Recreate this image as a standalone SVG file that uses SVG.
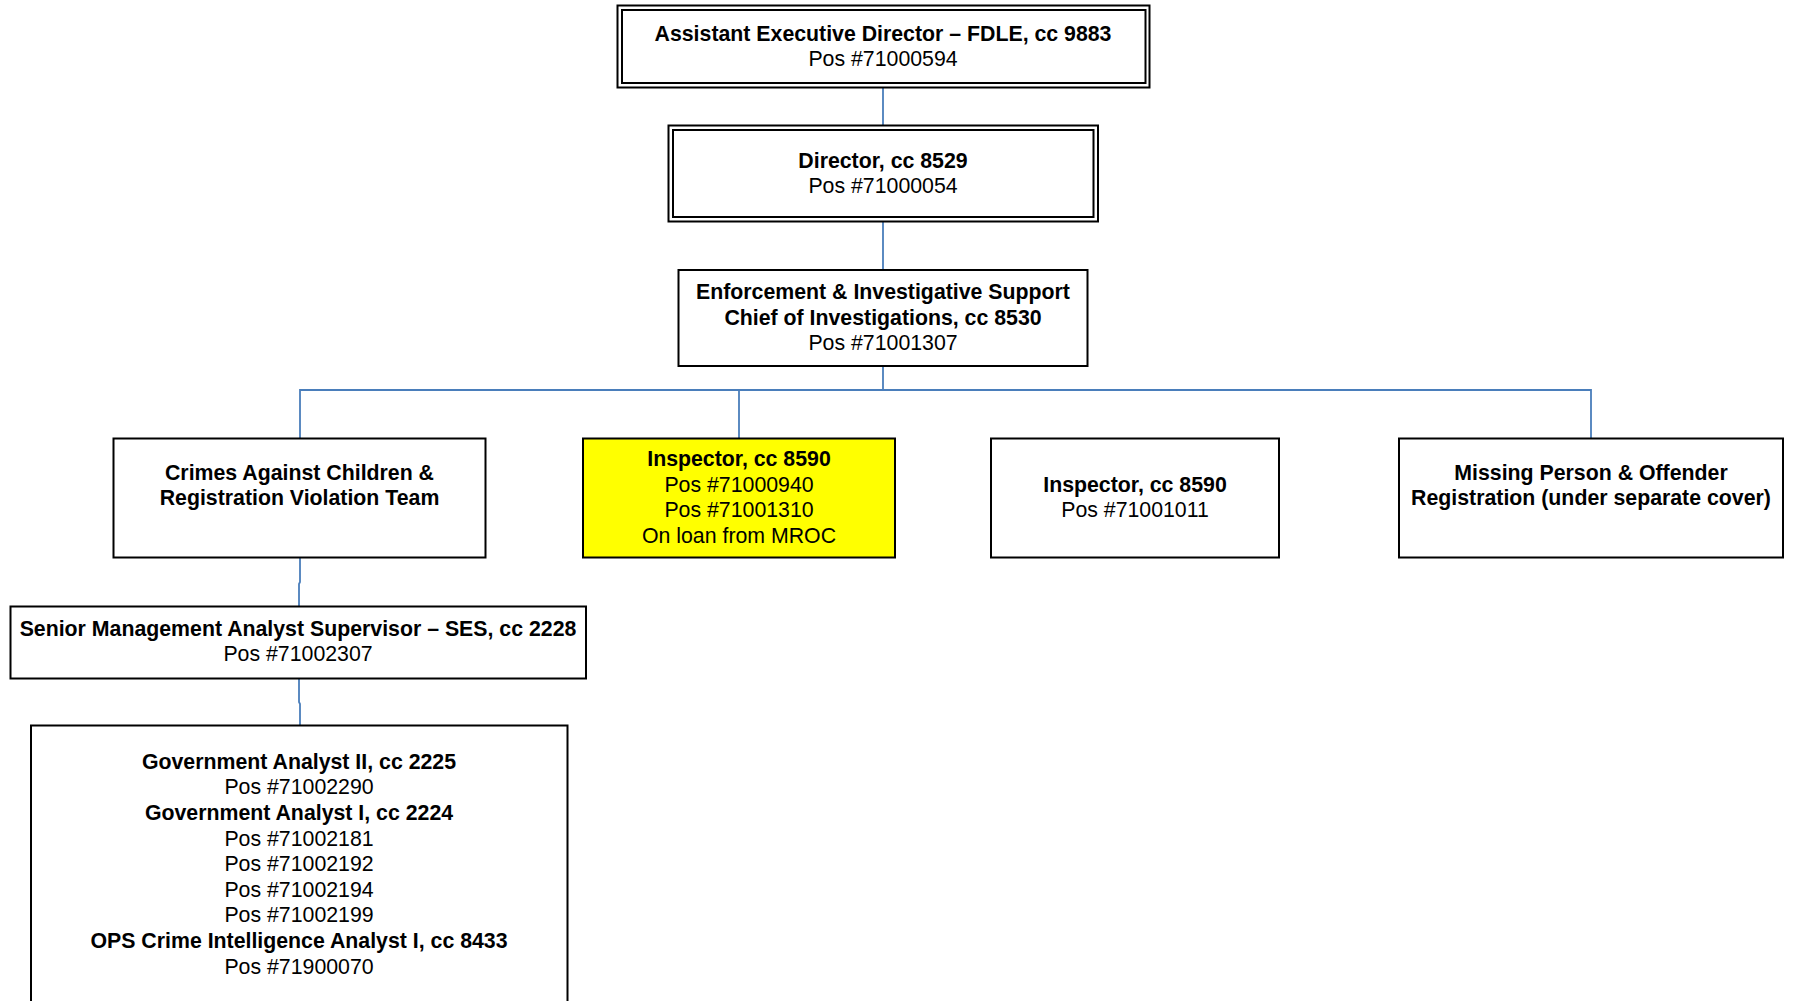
<svg xmlns="http://www.w3.org/2000/svg" width="1794" height="1001" viewBox="0 0 1794 1001">
<style>
.box{fill:#ffffff;stroke:#000000;stroke-width:2}
.hl{fill:#ffff00;stroke:#000000;stroke-width:2}
.conn{fill:none;stroke:#4a7ebb;stroke-width:1.8}
text{font-family:"Liberation Sans",Arial,sans-serif;font-size:21.3px;fill:#000000;text-anchor:middle}
.b{font-weight:bold}
</style>
<rect width="1794" height="1001" fill="#ffffff"/>
<g id="connectors">
<path class="conn" d="M883,88 V126"/>
<path class="conn" d="M883,222 V270"/>
<path class="conn" d="M883,366 V390"/>
<path class="conn" d="M300,438 V390 H1591 V438"/>
<path class="conn" d="M739,390 V438"/>
<path class="conn" d="M300,558 V582 L299,584 V607"/>
<path class="conn" d="M299,679 V702 L300,704 V725"/>
</g>
<g id="node-aed">
<rect class="box" x="617.5" y="5.5" width="532" height="82"/>
<rect class="box" x="622" y="10" width="523.5" height="73"/>
<text class="b" x="883" y="41">Assistant Executive Director – FDLE, cc 9883</text>
<text x="883" y="66">Pos #71000594</text>
</g>
<g id="node-director">
<rect class="box" x="668.5" y="125.5" width="429.5" height="96"/>
<rect class="box" x="673" y="130" width="420.5" height="87"/>
<text class="b" x="883" y="168">Director, cc 8529</text>
<text x="883" y="193">Pos #71000054</text>
</g>
<g id="node-chief">
<rect class="box" x="678.5" y="270" width="409" height="96"/>
<text class="b" x="883" y="299">Enforcement &amp; Investigative Support</text>
<text class="b" x="883" y="324.5">Chief of Investigations, cc 8530</text>
<text x="883" y="350">Pos #71001307</text>
</g>
<g id="node-crimes">
<rect class="box" x="113.5" y="438.5" width="372" height="119"/>
<text class="b" x="299.5" y="479.5">Crimes Against Children &amp;</text>
<text class="b" x="299.5" y="504.5">Registration Violation Team</text>
</g>
<g id="node-inspector1">
<rect class="hl" x="583" y="438.5" width="312" height="119"/>
<text class="b" x="739" y="466">Inspector, cc 8590</text>
<text x="739" y="491.5">Pos #71000940</text>
<text x="739" y="517">Pos #71001310</text>
<text x="739" y="542.5">On loan from MROC</text>
</g>
<g id="node-inspector2">
<rect class="box" x="991" y="438.5" width="288" height="119"/>
<text class="b" x="1135" y="491.5">Inspector, cc 8590</text>
<text x="1135" y="516.7">Pos #71001011</text>
</g>
<g id="node-missing">
<rect class="box" x="1399" y="438.5" width="384" height="119"/>
<text class="b" x="1591" y="479.5">Missing Person &amp; Offender</text>
<text class="b" x="1591" y="504.5">Registration (under separate cover)</text>
</g>
<g id="node-senior">
<rect class="box" x="10.5" y="606.5" width="575.5" height="72"/>
<text class="b" x="298" y="636">Senior Management Analyst Supervisor – SES, cc 2228</text>
<text x="298" y="661">Pos #71002307</text>
</g>
<g id="node-analysts">
<rect class="box" x="31" y="725.5" width="536.5" height="290"/>
<text class="b" x="299" y="769">Government Analyst II, cc 2225</text>
<text x="299" y="794">Pos #71002290</text>
<text class="b" x="299" y="820">Government Analyst I, cc 2224</text>
<text x="299" y="845.5">Pos #71002181</text>
<text x="299" y="871">Pos #71002192</text>
<text x="299" y="896.5">Pos #71002194</text>
<text x="299" y="922">Pos #71002199</text>
<text class="b" x="299" y="947.5">OPS Crime Intelligence Analyst I, cc 8433</text>
<text x="299" y="973.5">Pos #71900070</text>
</g>
</svg>
